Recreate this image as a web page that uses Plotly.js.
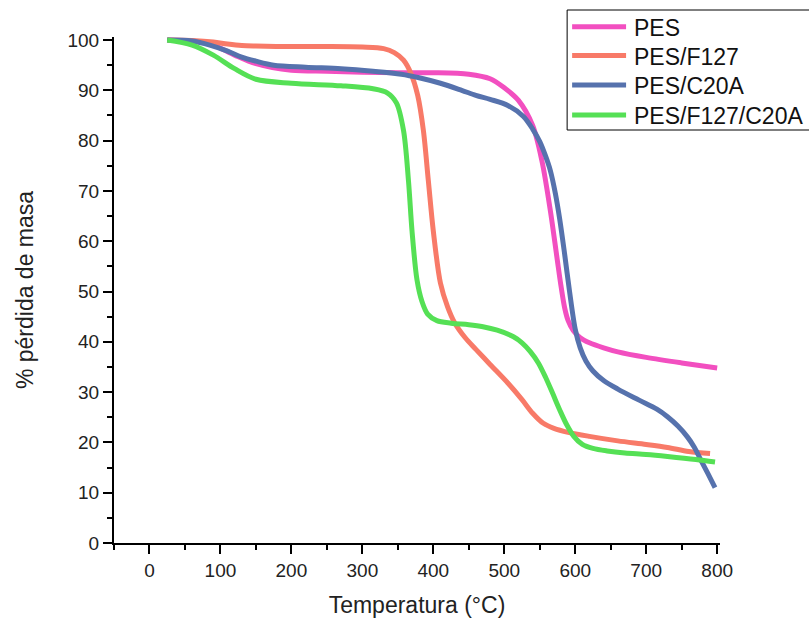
<!DOCTYPE html>
<html>
<head>
<meta charset="utf-8">
<script src="https://cdn.plot.ly/plotly-3.0.1.min.js"></script>
<style>html,body{margin:0;padding:0;background:#fff;}#chart{width:809px;height:618px;}</style>
</head>
<body>
<div id="chart"></div>
<script>
// Temperature (°C) and % mass for each sample
const pesX = [25, 60, 90, 120, 150, 200, 250, 300, 350, 400, 450, 480, 500, 520, 540, 553, 565, 574, 580, 585, 590, 597, 607, 620, 640, 660, 700, 750, 800];
const pesY = [100, 99.8, 99, 97, 95.3, 94, 93.8, 93.6, 93.5, 93.5, 93.2, 92.3, 90.5, 88, 83, 76, 66, 57, 51, 46.8, 44.2, 42.3, 40.8, 39.8, 38.8, 38, 36.9, 35.8, 34.8];

const f127X = [25, 60, 90, 110, 130, 150, 200, 250, 300, 330, 345, 358, 368, 378, 386, 393, 400, 410, 420, 430, 445, 460, 480, 505, 525, 540, 555, 570, 590, 620, 660, 700, 730, 760, 790];
const f127Y = [100, 99.9, 99.6, 99.2, 98.9, 98.8, 98.7, 98.7, 98.6, 98.3, 97.5, 96, 93.5, 89, 82, 72, 62, 51.7, 47, 43.8, 40.8, 38.5, 35.5, 31.8, 28.5, 25.8, 23.8, 22.8, 22, 21.2, 20.3, 19.6, 19, 18.2, 17.8];

const c20aX = [25, 60, 85, 110, 130, 150, 175, 220, 270, 315, 355, 380, 410, 440, 460, 480, 505, 527, 540, 550, 558, 565, 572, 578, 585, 592, 600, 607, 615, 625, 640, 660, 690, 715, 730, 745, 758, 768, 777, 787, 797];
const c20aY = [100, 99.8, 99, 97.8, 96.6, 95.8, 95, 94.6, 94.3, 93.8, 93.2, 92.5, 91.4, 90, 89, 88.2, 87, 84.8, 82.3, 79.8, 77, 74, 69.5, 64.5, 57.5, 50, 42.5, 38.8, 36.2, 34.2, 32.3, 30.6, 28.4, 26.6, 25.1, 23.2, 21.1, 19, 16.5, 13.8, 11];

const mixX = [25, 60, 90, 120, 150, 200, 270, 315, 335, 348, 358, 365, 370, 377, 384, 392, 405, 425, 450, 470, 490, 513, 525, 537, 548, 558, 568, 578, 588, 598, 610, 625, 645, 670, 700, 730, 770, 797];
const mixY = [100, 99, 97, 94.3, 92.2, 91.4, 90.9, 90.3, 89.5, 87.5, 82, 72, 62, 52.3, 48, 45.5, 44.2, 43.7, 43.4, 43, 42.3, 41, 39.8, 38, 35.8, 33, 29.8, 26.5, 23.5, 21.2, 19.6, 18.8, 18.3, 17.9, 17.6, 17.2, 16.6, 16.1];

const seriesNames = ["PES", "PES/F127", "PES/C20A", "PES/F127/C20A"];
const xTicks = [0, 100, 200, 300, 400, 500, 600, 700, 800];
const yTicks = [0, 10, 20, 30, 40, 50, 60, 70, 80, 90, 100];

const colors = ["#f24fc0", "#f87a68", "#5672ad", "#55e055"];
const xs = [pesX, f127X, c20aX, mixX];
const ys = [pesY, f127Y, c20aY, mixY];

const traces = seriesNames.map((n, i) => ({
  x: xs[i], y: ys[i], name: n, type: "scatter", mode: "lines",
  line: {color: colors[i], width: 5, shape: "spline", smoothing: 0.9},
  showlegend: false
}));

const font = {family: "Liberation Sans, Arial, sans-serif", color: "#222"};

// page layout (pixels) -> paper coordinates
const W = 809, H = 618, M = {l: 113.5, r: 89, t: 37, b: 75};
const px = v => (v - M.l) / (W - M.l - M.r);
const py = v => (H - M.b - v) / (H - M.t - M.b);

// hand-built legend box, swatches and labels
const legendRowsY = [26.7, 55.5, 85, 115];
const shapes = [{
  type: "rect", xref: "paper", yref: "paper",
  x0: px(567), x1: px(840), y0: py(130), y1: py(10),
  line: {color: "#000", width: 1}, fillcolor: "rgba(255,255,255,1)", layer: "above"
}];
const annotations = [];
seriesNames.forEach((n, i) => {
  shapes.push({
    type: "line", xref: "paper", yref: "paper",
    x0: px(572), x1: px(626), y0: py(legendRowsY[i]), y1: py(legendRowsY[i]),
    line: {color: colors[i], width: 5}, layer: "above"
  });
  annotations.push({
    xref: "paper", yref: "paper", x: px(632), y: py(legendRowsY[i] + 1),
    xanchor: "left", yanchor: "middle", showarrow: false, text: n,
    font: {family: font.family, size: 23, color: "#111"}
  });
});

const layout = {
  width: W, height: H,
  paper_bgcolor: "#fff", plot_bgcolor: "#fff",
  margin: {l: M.l, r: M.r, t: M.t, b: M.b, autoexpand: false},
  font: font,
  showlegend: false,
  shapes: shapes,
  annotations: annotations,
  xaxis: {
    range: [-50, 804], showgrid: false, zeroline: false,
    showline: true, linecolor: "#000", linewidth: 2,
    ticks: "outside", ticklen: 9, tickwidth: 2, tickcolor: "#000",
    tickvals: xTicks, ticktext: xTicks.map(String),
    tickfont: {family: font.family, size: 19, color: "#222"},
    minor: {dtick: 50, tick0: 0, ticks: "outside", ticklen: 5, tickwidth: 2, tickcolor: "#000", showgrid: false},
    title: {text: "Temperatura (°C)", font: {family: font.family, size: 23, color: "#222"}, standoff: 17}
  },
  yaxis: {
    range: [0, 100.6], showgrid: false, zeroline: false,
    showline: true, linecolor: "#000", linewidth: 2,
    ticks: "outside", ticklen: 9, tickwidth: 2, tickcolor: "#000",
    tickvals: yTicks, ticktext: yTicks.map(String),
    tickfont: {family: font.family, size: 19, color: "#222"},
    minor: {dtick: 5, tick0: 0, ticks: "outside", ticklen: 5, tickwidth: 2, tickcolor: "#000", showgrid: false},
    title: {text: "% pérdida de masa", font: {family: font.family, size: 23, color: "#222"}, standoff: 27}
  }
};

Plotly.newPlot("chart", traces, layout, {displayModeBar: false, staticPlot: true});
</script>
</body>
</html>
